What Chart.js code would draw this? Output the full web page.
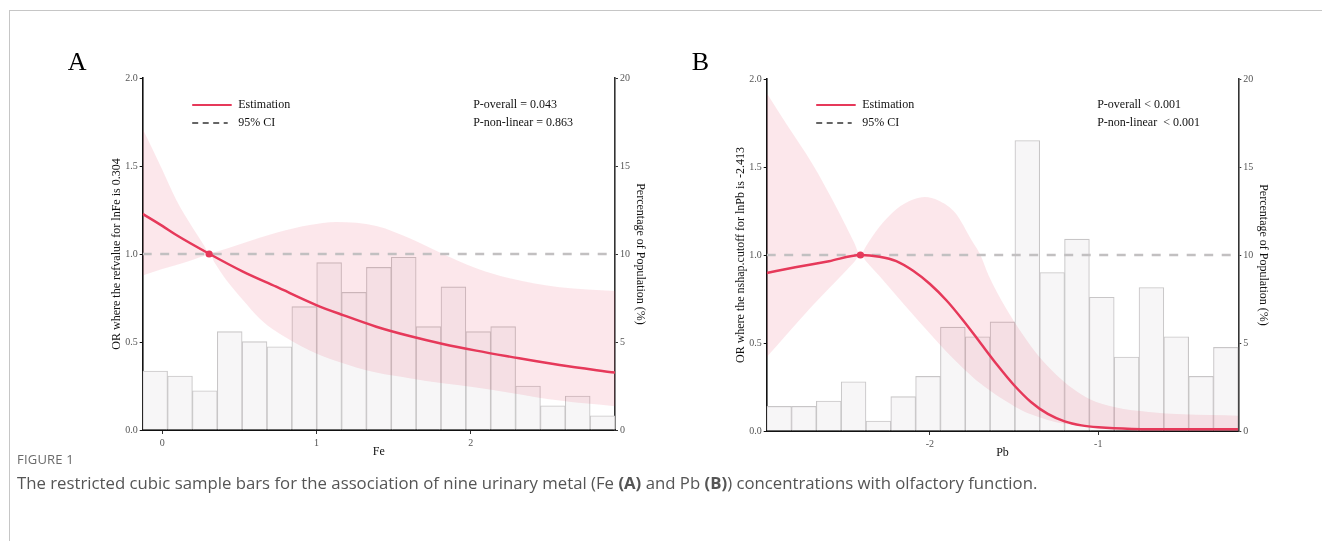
<!DOCTYPE html>
<html><head><meta charset="utf-8">
<script src="https://cdn.jsdelivr.net/npm/chart.js@4.4.1/dist/chart.umd.min.js"></script>
<style>
html,body{margin:0;padding:0;background:#fff;}
body{width:1322px;height:541px;overflow:hidden;position:relative;}
#frame{position:absolute;left:9px;top:10px;width:1330px;height:560px;border-left:1px solid #c6c6c6;border-top:1px solid #c6c6c6;}
canvas{position:absolute;top:0;}
#capfig{position:absolute;left:17px;top:450px;font-family:"Open Sans";font-size:13px;color:#6a6a6a;letter-spacing:0.2px;}
#cap{position:absolute;left:17px;top:471px;font-family:"Open Sans";font-size:16.75px;color:#555;white-space:nowrap;}
#cap b{color:#555;font-weight:700;}
</style></head>
<body>
<div id="frame"></div>
<canvas id="cA" width="661" height="480" style="left:0px"></canvas>
<canvas id="cB" width="661" height="480" style="left:661px"></canvas>
<div id="capfig">FIGURE 1</div>
<div id="cap">The restricted cubic sample bars for the association of nine urinary metal (Fe <b>(A)</b> and Pb <b>(B)</b>) concentrations with olfactory function.</div>
<script>
// ---------- Panel A (Fe) ----------
const barPctA = [3.35, 3.07, 2.23, 5.59, 5.02, 4.73, 7.01, 9.51, 7.82, 9.24, 9.81, 5.87, 8.13, 5.59, 5.87, 2.5, 1.38, 1.93, 0.81];
const estXA = [-0.127, 0.0, 0.091, 0.307, 0.523, 0.739, 0.999, 1.172, 1.388, 1.604, 1.82, 2.036, 2.253, 2.577, 2.936];
const estYA = [1.228, 1.16, 1.108, 1.0, 0.90, 0.814, 0.710, 0.653, 0.587, 0.534, 0.489, 0.451, 0.417, 0.369, 0.326];
const ciXA = [-0.127, -0.06, 0.0, 0.091, 0.199, 0.27, 0.307, 0.34, 0.415, 0.523, 0.631, 0.739, 0.848, 0.956, 1.128, 1.388, 1.604, 1.82, 2.036, 2.253, 2.577, 2.936];
const ciUpA = [1.71, 1.59, 1.478, 1.307, 1.146, 1.05, 1.0, 1.01, 1.03, 1.061, 1.092, 1.121, 1.145, 1.165, 1.182, 1.159, 1.089, 1.0, 0.919, 0.862, 0.811, 0.79];
const ciLoA = [0.878, 0.898, 0.915, 0.9375, 0.968, 0.989, 1.0, 0.95, 0.852, 0.739, 0.634, 0.559, 0.502, 0.452, 0.392, 0.326, 0.294, 0.265, 0.242, 0.212, 0.167, 0.135];
const refA = 0.304;
const xRangeA = [-0.127, 2.936];
const xTicksA = [0, 1, 2];
const xTickLabelsA = ['0', '1', '2'];

// ---------- Panel B (Pb) ----------
const barPctB = [1.4, 1.4, 1.7, 2.8, 0.57, 1.95, 3.1, 5.9, 5.35, 6.2, 16.5, 9.0, 10.9, 7.6, 4.2, 8.15, 5.35, 3.1, 4.75];
const estXB = [-2.97, -2.80, -2.60, -2.413, -2.30, -2.20, -2.10, -2.00, -1.90, -1.80, -1.70, -1.60, -1.50, -1.40, -1.30, -1.20, -1.10, -1.00, -0.80, -0.50, -0.168];
const estYB = [0.898, 0.93, 0.965, 1.0, 0.99, 0.965, 0.91, 0.835, 0.74, 0.625, 0.50, 0.375, 0.26, 0.165, 0.097, 0.055, 0.032, 0.021, 0.012, 0.01, 0.01];
const ciXB = [-2.97, -2.85, -2.70, -2.55, -2.45, -2.413, -2.38, -2.30, -2.20, -2.10, -2.03, -1.95, -1.85, -1.75, -1.70, -1.65, -1.55, -1.45, -1.35, -1.25, -1.15, -1.05, -0.90, -0.70, -0.50, -0.168];
const ciUpB = [1.92, 1.74, 1.52, 1.26, 1.07, 1.0, 1.05, 1.16, 1.26, 1.315, 1.33, 1.31, 1.24, 1.08, 1.0, 0.88, 0.70, 0.55, 0.42, 0.32, 0.24, 0.18, 0.135, 0.108, 0.095, 0.087];
const ciLoB = [0.42, 0.55, 0.71, 0.86, 0.96, 1.0, 0.965, 0.88, 0.77, 0.66, 0.585, 0.50, 0.40, 0.31, 0.27, 0.235, 0.17, 0.115, 0.078, 0.05, 0.035, 0.025, 0.017, 0.012, 0.01, 0.008];
const refB = -2.413;
const xRangeB = [-2.97, -0.168];
const xTicksB = [-2, -1];
const xTickLabelsB = ['-2', '-1'];

// ---------- shared ----------
const yTicks = [0, 0.5, 1.0, 1.5, 2.0];
const yTickLabels = ['0.0', '0.5', '1.0', '1.5', '2.0'];
const y2Ticks = [0, 5, 10, 15, 20];
const y2TickLabels = ['0', '5', '10', '15', '20'];
const barIdx = barPctA.map((_, i) => String(i + 1));

const RED = '#e6395a';
const BAND = 'rgba(232,60,90,0.12)';
const SERIF = '"Liberation Serif", "Times New Roman", serif';

function pts(xs, ys) { return xs.map((x, i) => ({ x: x, y: ys[i] })); }

function textPlugin(t) {
  return {
    id: 'txt',
    afterDraw(chart) {
      const ctx = chart.ctx, a = chart.chartArea;
      ctx.save();
      ctx.fillStyle = '#000';
      ctx.font = '26px ' + SERIF;
      ctx.textAlign = 'left'; ctx.textBaseline = 'alphabetic';
      ctx.fillText(t.letter, a.left - 75, 70);
      const L = a.left + 49.5, R = a.left + 89;
      ctx.strokeStyle = RED; ctx.lineWidth = 2;
      ctx.beginPath(); ctx.moveTo(L, 105); ctx.lineTo(R, 105); ctx.stroke();
      ctx.strokeStyle = '#333'; ctx.lineWidth = 1.6; ctx.setLineDash([6, 4.5]);
      ctx.beginPath(); ctx.moveTo(L, 123); ctx.lineTo(R - 4, 123); ctx.stroke();
      ctx.setLineDash([]);
      ctx.font = '12px ' + SERIF; ctx.textBaseline = 'middle';
      ctx.fillStyle = '#111';
      ctx.fillText('Estimation', a.left + 95.5, 105);
      ctx.fillText('95% CI', a.left + 95.5, 123);
      ctx.fillText(t.p1, a.left + 330.5, 105);
      ctx.fillText(t.p2, a.left + 330.5, 123);
      ctx.textAlign = 'center';
      const cy = (a.top + a.bottom) / 2;
      ctx.save(); ctx.translate(a.left - 26, cy); ctx.rotate(-Math.PI / 2);
      ctx.fillText(t.yTitle, 0, 0); ctx.restore();
      ctx.save(); ctx.translate(a.right + 25, cy); ctx.rotate(Math.PI / 2);
      ctx.fillText(t.y2Title, 0, 0); ctx.restore();
      ctx.fillText(t.xTitle, (a.left + a.right) / 2, a.bottom + 22);
      ctx.restore();
    }
  };
}

function build(id, o) {
  const fixW = (w) => (s) => { s.width = w; };
  return new Chart(document.getElementById(id), {
    type: 'line',
    data: {
      labels: barIdx,
      datasets: [
        { type: 'bar', data: o.bars, xAxisID: 'xb', yAxisID: 'y2', order: 5, grouped: false,
          backgroundColor: '#f7f6f7', borderColor: '#c8c6c7', borderWidth: 1.1,
          borderSkipped: 'start', barPercentage: 1, categoryPercentage: 1 },
        { data: pts(o.ciX, o.ciLo), xAxisID: 'x', yAxisID: 'y', order: 4,
          borderWidth: 0, pointRadius: 0, fill: false, cubicInterpolationMode: 'monotone' },
        { data: pts(o.ciX, o.ciUp), xAxisID: 'x', yAxisID: 'y', order: 3,
          borderWidth: 0, pointRadius: 0, fill: '-1', backgroundColor: BAND, cubicInterpolationMode: 'monotone' },
        { data: [{ x: o.xr[0], y: 1 }, { x: o.xr[1], y: 1 }], xAxisID: 'x', yAxisID: 'y', order: 2,
          borderColor: '#c2c0c1', borderWidth: 2.6, borderDash: [9, 8.5], pointRadius: 0, fill: false },
        { data: pts(o.estX, o.estY), xAxisID: 'x', yAxisID: 'y', order: 1,
          borderColor: RED, borderWidth: 2.5, pointRadius: 0, fill: false, cubicInterpolationMode: 'monotone' },
        { data: [{ x: o.ref, y: 1 }], xAxisID: 'x', yAxisID: 'y', order: 0, showLine: false,
          pointRadius: 3.6, pointBackgroundColor: RED, pointBorderWidth: 0 }
      ]
    },
    options: {
      responsive: false, animation: false, events: [],
      layout: { padding: { top: o.top, left: 0, right: 0, bottom: 0 } },
      plugins: { legend: { display: false }, tooltip: { enabled: false } },
      scales: {
        x: { type: 'linear', position: 'bottom', min: o.xr[0], max: o.xr[1],
          afterBuildTicks: (s) => { s.ticks = o.xTicks.map(v => ({ value: v })); },
          afterFit: (s) => { s.height = o.xH; },
          ticks: { color: '#555', font: { family: SERIF, size: 10 }, padding: 3,
            callback: (v) => o.xLabels[o.xTicks.indexOf(v)] },
          grid: { drawOnChartArea: false, tickLength: 4, tickColor: '#333', tickWidth: 1 },
          border: { color: '#111', width: 2 } },
        xb: { type: 'category', labels: barIdx, offset: true, display: false },
        y: { type: 'linear', position: 'left', min: 0, max: 2,
          afterBuildTicks: (s) => { s.ticks = yTicks.map(v => ({ value: v })); },
          afterFit: fixW(o.leftW),
          ticks: { color: '#555', font: { family: SERIF, size: 10 }, padding: 2,
            callback: (v) => yTickLabels[yTicks.indexOf(v)] },
          grid: { drawOnChartArea: false, tickLength: 3, tickColor: '#111', tickWidth: 1 },
          border: { color: '#111', width: 1.6 } },
        y2: { type: 'linear', position: 'right', min: 0, max: 20,
          afterBuildTicks: (s) => { s.ticks = y2Ticks.map(v => ({ value: v })); },
          afterFit: fixW(o.rightW),
          ticks: { color: '#555', font: { family: SERIF, size: 10 }, padding: 2,
            callback: (v) => y2TickLabels[y2Ticks.indexOf(v)] },
          grid: { drawOnChartArea: false, tickLength: 3, tickColor: '#333', tickWidth: 1 },
          border: { color: '#333', width: 1.6 } }
      }
    },
    plugins: [textPlugin(o.text)]
  });
}

build('cA', {
  bars: barPctA, ciX: ciXA, ciLo: ciLoA, ciUp: ciUpA, estX: estXA, estY: estYA, ref: refA,
  xr: xRangeA, xTicks: xTicksA, xLabels: xTickLabelsA,
  top: 78, xH: 50, leftW: 142.7, rightW: 46,
  text: { letter: 'A', p1: 'P-overall = 0.043', p2: 'P-non-linear = 0.863',
    yTitle: 'OR where the refvalue for lnFe is 0.304', y2Title: 'Percentage of Population (%)', xTitle: 'Fe' }
});
build('cB', {
  bars: barPctB, ciX: ciXB, ciLo: ciLoB, ciUp: ciUpB, estX: estXB, estY: estYB, ref: refB,
  xr: xRangeB, xTicks: xTicksB, xLabels: xTickLabelsB,
  top: 79, xH: 49, leftW: 105.7, rightW: 83.7,
  text: { letter: 'B', p1: 'P-overall < 0.001', p2: 'P-non-linear  < 0.001',
    yTitle: 'OR where the nshap.cutoff for lnPb is -2.413', y2Title: 'Percentage of Population (%)', xTitle: 'Pb' }
});
</script>
</body></html>
